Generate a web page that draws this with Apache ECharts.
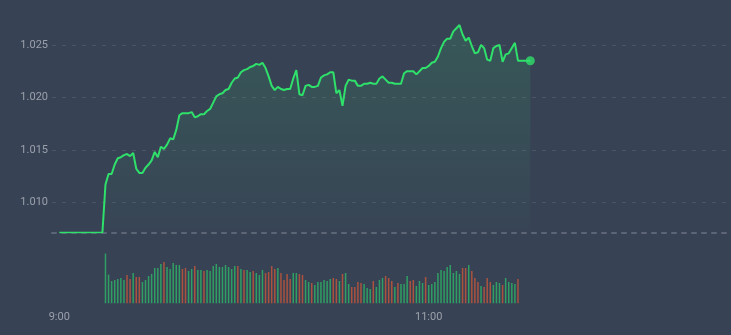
<!DOCTYPE html>
<html>
<head>
<meta charset="utf-8">
<script src="https://cdn.jsdelivr.net/npm/echarts@6/dist/echarts.min.js"></script>
<style>
  html, body { margin: 0; padding: 0; background: #384255; }
  #chart { width: 731px; height: 335px; }
</style>
</head>
<body>
<div id="chart"></div>
<script>
// ---- data ----
const prevClose = 1.0071;
const openIndex = 15; // first traded minute (9:15)
const xLabelMinutes = [0, 120]; // 9:00, 11:00

// price per minute from 9:00
const prices = [
  1.0071, 1.0071, 1.0071, 1.0071, 1.0071, 1.0071, 1.0071, 1.0071, 1.0071, 1.0071,
  1.0071, 1.0071, 1.0071, 1.0071, 1.0071, 1.0117, 1.0127, 1.0127, 1.0136, 1.0142,
  1.0143, 1.0145, 1.0146, 1.0144, 1.0147, 1.0132, 1.0128, 1.0128, 1.0133, 1.0136,
  1.0140, 1.0148, 1.0143, 1.0153, 1.0151, 1.0155, 1.0161, 1.0160, 1.0169, 1.0183,
  1.0185, 1.0185, 1.0185, 1.0186, 1.0181, 1.0182, 1.0184, 1.0184, 1.0187, 1.0189,
  1.0195, 1.0201, 1.0203, 1.0204, 1.0207, 1.0208, 1.0214, 1.0218, 1.0219, 1.0224,
  1.0226, 1.0227, 1.0229, 1.0230, 1.0232, 1.0231, 1.0233, 1.0228, 1.0220, 1.0211,
  1.0207, 1.0210, 1.0208, 1.0207, 1.0208, 1.0208, 1.0218, 1.0226, 1.0203, 1.0202,
  1.0211, 1.0212, 1.0210, 1.0210, 1.0211, 1.0219, 1.0221, 1.0222, 1.0224, 1.0224,
  1.0204, 1.0207, 1.0192, 1.0211, 1.0217, 1.0216, 1.0216, 1.0211, 1.0211, 1.0213,
  1.0213, 1.0214, 1.0213, 1.0213, 1.0218, 1.0220, 1.0217, 1.0214, 1.0214, 1.0213,
  1.0213, 1.0213, 1.0223, 1.0225, 1.0225, 1.0225, 1.0222, 1.0225, 1.0228, 1.0228,
  1.0230, 1.0233, 1.0234, 1.0239, 1.0247, 1.0253, 1.0256, 1.0256, 1.0263, 1.0266,
  1.0269, 1.0260, 1.0254, 1.0257, 1.0249, 1.0242, 1.0243, 1.0250, 1.0247, 1.0236,
  1.0235, 1.0247, 1.0249, 1.0250, 1.0234, 1.0241, 1.0242, 1.0247, 1.0252, 1.0235,
  1.0235, 1.0235, 1.0235, 1.0235
];

// volume per minute from 9:15
const volumes = [
  497, 287, 223, 233, 243, 253, 233, 283, 243, 303,
  263, 263, 213, 233, 273, 293, 353, 353, 393, 413,
  363, 343, 403, 383, 383, 343, 353, 323, 343, 373,
  333, 333, 323, 333, 323, 373, 393, 363, 363, 383,
  363, 343, 373, 373, 343, 333, 333, 313, 323, 303,
  283, 333, 303, 313, 373, 343, 353, 303, 233, 293,
  243, 303, 303, 293, 283, 233, 213, 203, 183, 213,
  213, 233, 223, 243, 253, 243, 223, 293, 303, 193,
  163, 163, 213, 203, 193, 153, 143, 223, 163, 233,
  253, 273, 253, 223, 163, 203, 193, 193, 273, 223,
  233, 173, 223, 203, 263, 183, 193, 213, 303, 333,
  323, 363, 383, 303, 323, 293, 353, 353, 383, 323,
  253, 213, 173, 163, 253, 213, 183, 213, 203, 183,
  253, 213, 203, 193, 243
];

// u = up (green), d = down (red)
const directions = [
  'u','u','u','u','u','u','u','d','d','u',
  'd','d','u','u','u','u','u','u','u','d',
  'u','u','u','u','u','d','d','u','u','d',
  'u','u','d','u','u','u','u','u','u','u',
  'u','u','u','d','u','d','u','u','d','u',
  'u','u','d','d','d','d','u','d','d','d',
  'd','u','u','d','d','u','u','d','u','u',
  'u','u','u','u','d','d','u','d','u','u',
  'd','d','d','d','u','u','u','d','u','u',
  'u','d','d','d','u','d','u','u','u','d',
  'd','u','u','u','d','u','u','u','u','u',
  'u','u','u','u','u','u','d','d','u','d',
  'd','d','u','d','d','d','u','u','u','d',
  'u','u','u','u','d'
];

// ---- chart ----
const lineColor = '#2fe06a';
const upColor = '#2f9f63';
const downColor = '#ab533f';
const textColor = '#9aa1ab';

function fmtTime(m) {
  const h = 9 + Math.floor(m / 60);
  const mm = m % 60;
  return h + ':' + (mm < 10 ? '0' : '') + mm;
}

const xMin = -2.37, xMax = 218.2;
const lastIdx = prices.length - 1;

const chart = echarts.init(document.getElementById('chart'), null, { renderer: 'canvas' });
chart.setOption({
  backgroundColor: '#384255',
  animation: false,
  grid: [
    { left: 52, right: 0, top: 20, height: 212.3 },
    { left: 52, right: 0, top: 253.3, height: 50 }
  ],
  xAxis: [
    {
      type: 'value', gridIndex: 0, min: xMin, max: xMax,
      axisLine: { show: true, lineStyle: { color: '#5c6575', width: 2, type: [4, 6] } },
      axisTick: { show: false }, axisLabel: { show: false }, splitLine: { show: false }
    },
    {
      type: 'value', gridIndex: 1, min: xMin, max: xMax,
      axisLine: { show: false }, axisTick: { show: false }, splitLine: { show: false },
      axisLabel: {
        show: true, customValues: xLabelMinutes, color: textColor, fontSize: 11,
        fontFamily: 'Roboto', margin: 8,
        showMinLabel: true, showMaxLabel: true,
        formatter: v => fmtTime(Math.round(v))
      }
    }
  ],
  yAxis: [
    {
      type: 'value', gridIndex: 0, min: 1.00714, max: 1.02738, splitNumber: 5,
      axisLine: { show: false }, axisTick: { show: false },
      axisLabel: {
        color: textColor, fontSize: 11, fontFamily: 'Roboto', margin: 4,
        showMinLabel: false, showMaxLabel: false,
        formatter: v => v.toFixed(3)
      },
      splitLine: {
        show: true, showMinLine: false, showMaxLine: false,
        lineStyle: { color: 'rgba(255,255,255,0.1)', width: 1, type: [4, 6] }
      }
    },
    {
      type: 'value', gridIndex: 1, min: 0, max: 500, show: false
    }
  ],
  series: [
    {
      type: 'line', xAxisIndex: 0, yAxisIndex: 0,
      data: prices.map((v, i) => [i, v]),
      symbol: 'none',
      lineStyle: { color: lineColor, width: 2 },
      areaStyle: {
        color: new echarts.graphic.LinearGradient(0, 0, 0, 1, [
          { offset: 0, color: 'rgba(47,224,106,0.20)' },
          { offset: 1, color: 'rgba(47,224,106,0.02)' }
        ])
      },
      z: 3
    },
    {
      type: 'scatter', xAxisIndex: 0, yAxisIndex: 0,
      data: [[lastIdx, prices[lastIdx]]],
      symbol: 'circle', symbolSize: 9,
      itemStyle: { color: lineColor },
      z: 4
    },
    {
      type: 'bar', xAxisIndex: 1, yAxisIndex: 1,
      barWidth: 1.5,
      data: volumes.map((v, i) => ({
        value: [openIndex + i, v],
        itemStyle: { color: directions[i] === 'u' ? upColor : downColor }
      }))
    }
  ]
});
</script>
</body>
</html>
